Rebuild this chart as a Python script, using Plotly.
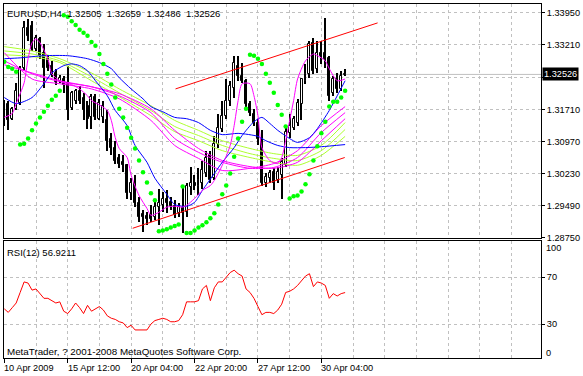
import plotly.graph_objects as go

FONT = "Liberation Sans, Arial"

# ---------------- data ----------------
bars = list(range(87))
opens = [1.3187,1.3185,1.3150,1.3173,1.3187,1.3268,1.3360,1.3365,1.3312,1.3335,
 1.3303,1.3289,1.3273,1.3256,1.3238,1.3242,1.3233,1.3175,1.3192,1.3215,
 1.3199,1.3180,1.3153,1.3201,1.3150,1.3153,1.3146,1.3104,1.3083,1.3058,
 1.3049,1.3042,1.2977,1.3002,1.2954,1.2929,1.2924,1.2926,1.2922,1.2945,
 1.2951,1.2963,1.2956,1.2947,1.2931,1.2942,1.2933,1.2991,1.3002,1.2993,
 1.3002,1.3023,1.3065,1.3012,1.3092,1.3127,1.3157,1.3192,1.3222,1.3273,
 1.3249,1.3238,1.3185,1.3162,1.3141,1.3104,1.3002,1.3012,1.3026,1.3007,
 1.3019,1.3042,1.3116,1.3129,1.3141,1.3185,1.3238,1.3254,1.3326,1.3266,
 1.3303,1.3303,1.3291,1.3210,1.3242,1.3219,1.32505]
highs = [1.3194,1.3192,1.3178,1.3233,1.3273,1.3376,1.3381,1.3376,1.3344,1.3339,
 1.3323,1.3296,1.3284,1.3266,1.3252,1.3249,1.3273,1.3215,1.3219,1.3226,
 1.3210,1.3192,1.3208,1.3208,1.3196,1.3192,1.3169,1.3116,1.3099,1.3069,
 1.3065,1.3046,1.3012,1.3019,1.2968,1.2938,1.2933,1.2949,1.2965,1.2988,
 1.2979,1.2984,1.2968,1.2961,1.2954,1.2991,1.3000,1.3037,1.3019,1.3035,
 1.3053,1.3076,1.3076,1.3111,1.3162,1.3192,1.3242,1.3238,1.3296,1.3296,
 1.3280,1.3242,1.3192,1.3173,1.3150,1.3123,1.3023,1.3030,1.3035,1.3037,
 1.3058,1.3134,1.3162,1.3157,1.3196,1.3245,1.3277,1.3330,1.3337,1.3330,
 1.3330,1.3383,1.3296,1.3249,1.3256,1.3261,1.32659]
lows = [1.3134,1.3123,1.3146,1.3169,1.3182,1.3261,1.3330,1.3307,1.3307,1.3289,
 1.3222,1.3261,1.3247,1.3229,1.3233,1.3210,1.3146,1.3169,1.3185,1.3185,
 1.3146,1.3127,1.3127,1.3146,1.3146,1.3141,1.3076,1.3065,1.3046,1.3035,
 1.3026,1.2965,1.2961,1.2945,1.2910,1.2887,1.2903,1.2910,1.2915,1.2903,
 1.2933,1.2931,1.2938,1.2919,1.2922,1.2885,1.2922,1.2972,1.2984,1.2972,
 1.2988,1.3014,1.3000,1.3007,1.3081,1.3118,1.3150,1.3180,1.3199,1.3238,
 1.3233,1.3175,1.3157,1.3134,1.3088,1.2995,1.2991,1.3002,1.2984,1.3002,
 1.2965,1.3037,1.3106,1.3123,1.3134,1.3146,1.3231,1.3245,1.3254,1.3256,
 1.3277,1.3268,1.3192,1.3203,1.3210,1.3215,1.32486]
closes = [1.3141,1.3146,1.3173,1.3215,1.3268,1.3360,1.3342,1.3312,1.3337,1.3296,
 1.3268,1.3268,1.3254,1.3236,1.3245,1.3229,1.3169,1.3210,1.3215,1.3192,
 1.3169,1.3150,1.3201,1.3153,1.3187,1.3180,1.3099,1.3083,1.3053,1.3046,
 1.3042,1.2977,1.3002,1.2954,1.2922,1.2922,1.2917,1.2917,1.2945,1.2954,
 1.2965,1.2954,1.2947,1.2926,1.2945,1.2931,1.2993,1.3002,1.2993,1.3007,
 1.3030,1.3060,1.3007,1.3092,1.3129,1.3157,1.3192,1.3226,1.3280,1.3249,
 1.3238,1.3185,1.3164,1.3141,1.3104,1.3002,1.3014,1.3023,1.3002,1.3026,
 1.3049,1.3118,1.3134,1.3150,1.3187,1.3242,1.3254,1.3323,1.3261,1.3303,
 1.3296,1.3289,1.3203,1.3242,1.3219,1.3249,1.32526]

sar = [1.3282,1.3270,1.3266,1.3259,1.3090,1.3092,1.3104,1.3123,1.3139,1.3153,
 1.3166,1.3180,1.3194,1.3203,1.3215,1.3390,1.3386,1.3376,1.3367,1.3356,
 1.3349,1.3342,1.3328,1.3319,1.3300,1.3277,1.3254,1.3229,1.3199,1.3173,
 1.3153,1.3129,1.3106,1.3081,1.3053,1.3026,1.3002,1.2977,1.2961,1.2889,
 1.2891,1.2894,1.2898,1.2901,1.2905,1.2993,1.2885,1.2885,1.2891,1.2898,
 1.2903,1.2910,1.2919,1.2931,1.2951,1.2975,1.2995,1.3023,1.3062,1.3104,
 1.3143,1.3173,1.3298,1.3296,1.3289,1.3277,1.3254,1.3233,1.3210,1.3182,
 1.3159,1.3132,1.2965,1.2970,1.2972,1.2981,1.2998,1.3021,1.3053,1.3086,
 1.3116,1.3143,1.3178,1.3189,1.3189,1.3199,1.3215]

rsi = [43,40,44,48,57,66,65,59,60,56,
 52,52,50,48,49,41,39,43,48,44,
 39,46,41,43,45,42,37,35,34,32,
 31,27,29,25,25,25,25,30,33,34,
 35,34,32,32,33,38,49,49,49,50,
 60,63,50,61,66,66,70,74,76,73,
 71,60,57,52,45,38,40,40,39,42,
 47,57,58,60,63,67,71,73,62,66,
 65,63,52,56,54,56,56.9211]

# moving averages (read at sample bars)
blueA_idx = [0,4,10,16,21,24,27,29,32,35,37,40,43,46,49,52,55,59,64,66,69,72,76,80,86]
blueA = [1.3289,1.3291,1.3296,1.3296,1.3289,1.3280,1.3266,1.3245,1.3219,1.3196,
 1.3178,1.3166,1.3153,1.3150,1.3141,1.3123,1.3113,1.3116,1.3109,1.3099,
 1.3088,1.3083,1.3083,1.3085,1.3090]
blueB_idx = [0,3,7,10,12,15,17,19,21,23,26,28,31,33,36,38,41,43,46,48,50,53,55,58,60,63,65,67,69,72,74,77,79,82,84,86]
blueB = [1.3199,1.3185,1.3199,1.3231,1.3256,1.3273,1.3277,1.3273,1.3261,1.3238,
 1.3203,1.3169,1.3134,1.3088,1.3049,1.3012,1.2975,1.2951,1.2947,1.2956,
 1.2984,1.3023,1.3049,1.3083,1.3111,1.3143,1.3153,1.3139,1.3123,1.3104,
 1.3095,1.3106,1.3127,1.3169,1.3203,1.3238]
magF_idx = [0,2,3,5,6,7,8,9,11,12,14,15,17,19,21,22,24,26,27,28,29,31,32,34,36,37,39,41,43,45,46,48,50,52,53,55,57,58,59,60,62,63,64,65,67,69,70,71,72,73,74,76,78,79,81,82,84,86]
magF = [1.3153,1.3162,1.3185,1.3233,1.3289,1.3326,1.3335,1.3326,1.3289,1.3254,
 1.3238,1.3233,1.3229,1.3219,1.3203,1.3192,1.3182,1.3169,1.3146,1.3106,
 1.3081,1.3060,1.3019,1.2972,1.2942,1.2926,1.2933,1.2945,1.2947,1.2945,
 1.2949,1.2965,1.2984,1.2995,1.3007,1.3042,1.3088,1.3134,1.3192,1.3231,
 1.3231,1.3203,1.3157,1.3083,1.3053,1.3046,1.3060,1.3099,1.3146,1.3192,
 1.3242,1.3284,1.3300,1.3296,1.3284,1.3266,1.3238,1.3242]
rib_idx = [0,7,14,22,29,37,43,49,55,62,68,74,80,86]
mag2 = [1.3303,1.3242,1.3231,1.3219,1.3196,1.3146,1.3088,1.3058,1.3030,1.3035,1.3046,1.3076,1.3134,1.3178]
mag3 = [1.3284,1.3254,1.3236,1.3224,1.3203,1.3164,1.3104,1.3072,1.3049,1.3035,1.3037,1.3060,1.3118,1.3164]
mag4 = [1.3275,1.3256,1.3238,1.3224,1.3208,1.3173,1.3123,1.3081,1.3053,1.3039,1.3035,1.3049,1.3099,1.3150]
yg1 = [1.3317,1.3307,1.3289,1.3256,1.3219,1.3180,1.3146,1.3123,1.3099,1.3081,1.3069,1.3065,1.3088,1.3141]
yg2 = [1.3307,1.3300,1.3284,1.3247,1.3210,1.3169,1.3132,1.3111,1.3088,1.3069,1.3058,1.3053,1.3076,1.3125]
yg3 = [1.3298,1.3294,1.3280,1.3238,1.3201,1.3157,1.3120,1.3099,1.3076,1.3060,1.3049,1.3042,1.3065,1.3109]

# trend channel (bar, price)
upper_idx = [43.2, 94.2]
upper_px = [1.3219, 1.3372]
lower_idx = [32.4, 85.9]
lower_px = [1.2896, 1.3060]

price_ticks = [1.2875, 1.2949, 1.3023, 1.3097, 1.3171, 1.3246, 1.3321, 1.3395]
price_labels = ["1.28750", "1.29490", "1.30230", "1.30970", "1.31710", "", "1.33210", "1.33950"]
rsi_ticks = [30, 70]
rsi_edge_labels = ["100", "0"]
time_idx = [0, 16, 32, 48, 64, 80]
time_labels = ["10 Apr 2009", "15 Apr 12:00", "20 Apr 04:00", "22 Apr 20:00", "27 Apr 12:00", "30 Apr 04:00"]
last_price = 1.32526
symbol_text = "EURUSD,H4"
rsi_label = "RSI(12) 56.9211"
copyright = "MetaTrader, ? 2001-2008 MetaQuotes Software Corp."

FS = 9.2

# ---------------- figure ----------------
fig = go.Figure()

# wicks
fig.add_trace(go.Bar(x=bars, y=[h - l for h, l in zip(highs, lows)], base=lows,
                     width=0.28, marker=dict(color="black", line=dict(width=0)),
                     xaxis="x", yaxis="y", hoverinfo="skip"))
# bodies
body_h = [max(abs(c - o), 0.00004) for o, c in zip(opens, closes)]
body_b = [min(o, c) for o, c in zip(opens, closes)]
body_c = ["white" if c >= o else "black" for o, c in zip(opens, closes)]
fig.add_trace(go.Bar(x=bars, y=body_h, base=body_b, width=0.5,
                     marker=dict(color=body_c, line=dict(color="black", width=1)),
                     xaxis="x", yaxis="y", hoverinfo="skip"))

def add_line(xs, ys, color, smooth=True, width=1):
    fig.add_trace(go.Scatter(x=xs, y=ys, mode="lines",
                             line=dict(color=color, width=width,
                                       shape="spline" if smooth else "linear",
                                       smoothing=0.7 if smooth else None),
                             xaxis="x", yaxis="y", hoverinfo="skip"))

YG = "#ADFF2F"
MG = "#FF00FF"
for s in (yg1, yg2, yg3):
    add_line(rib_idx, s, YG)
for s in (mag2, mag3, mag4):
    add_line(rib_idx, s, MG)
add_line(blueA_idx, blueA, "#0000FF")
add_line(blueB_idx, blueB, "#0000FF")
add_line(magF_idx, magF, MG)
add_line(upper_idx, upper_px, "#FF0000", smooth=False)
add_line(lower_idx, lower_px, "#FF0000", smooth=False)

fig.add_trace(go.Scatter(x=bars, y=sar, mode="markers",
                         marker=dict(color="#00FF00", size=4.5, symbol="circle", line=dict(width=0)),
                         xaxis="x", yaxis="y", hoverinfo="skip"))

# RSI
fig.add_trace(go.Scatter(x=bars, y=rsi, mode="lines", line=dict(color="#FF0000", width=1),
                         xaxis="x2", yaxis="y2", hoverinfo="skip"))

GRID = "#C0C0C0"
grid_minor = [8, 24, 40, 56, 72, 88, 96, 104, 112, 120, 128]
grid_all = list(range(8, 129, 8))
XR = [-0.075, 135.425]

fig.update_layout(
    width=583, height=376,
    margin=dict(l=3, r=38, t=3, b=18),
    paper_bgcolor="white", plot_bgcolor="white",
    showlegend=False, barmode="overlay", bargap=0,
    font=dict(family=FONT, size=FS, color="black"),
    xaxis=dict(domain=[0, 1], anchor="y", range=XR, tickvals=grid_all,
               showticklabels=False, ticks="", showgrid=True, gridcolor=GRID,
               griddash="3px,3px", gridwidth=1, zeroline=False,
               showline=True, mirror=True, linecolor="black", linewidth=1),
    yaxis=dict(domain=[0.33803, 1], anchor="x", range=[1.287269, 1.341580],
               side="right", tickvals=price_ticks, ticktext=price_labels,
               ticks="outside", ticklen=3, tickcolor="black",
               showgrid=True, gridcolor=GRID, griddash="3px,3px", zeroline=False,
               showline=True, mirror=True, linecolor="black", linewidth=1,
               tickfont=dict(family=FONT, size=FS, color="black")),
    xaxis2=dict(domain=[0, 1], anchor="y2", range=XR, tickvals=time_idx,
                showticklabels=False, ticks="outside", ticklen=4, tickcolor="black",
                showgrid=True, gridcolor=GRID, griddash="3px,3px", zeroline=False,
                minor=dict(tickvals=grid_minor, showgrid=True, gridcolor=GRID,
                           griddash="3px,3px", ticks=""),
                showline=True, mirror=True, linecolor="black", linewidth=1),
    yaxis2=dict(domain=[0, 0.32958], anchor="x2", range=[1.06, 100.64],
                side="right", tickvals=rsi_ticks, ticktext=[str(v) for v in rsi_ticks],
                ticks="outside", ticklen=3, tickcolor="black",
                showgrid=True, gridcolor=GRID, griddash="3px,3px", zeroline=False,
                showline=True, mirror=True, linecolor="black", linewidth=1,
                tickfont=dict(family=FONT, size=FS, color="black")),
)

# current price line
fig.add_shape(type="line", xref="x domain", yref="y", x0=0, x1=1, y0=last_price, y1=last_price,
              line=dict(color=GRID, width=1), layer="below")

ann = []
hdr = symbol_text + "\u00a0\u00a0" + "\u00a0\u00a0".join("%.5f" % v for v in (opens[-1], highs[-1], lows[-1], closes[-1]))
ann.append(dict(text=hdr, xref="x domain", yref="y domain", x=0, y=1,
                xanchor="left", yanchor="middle", xshift=1, yshift=-9, showarrow=False,
                font=dict(family=FONT, size=FS + 0.3, color="black")))
ann.append(dict(text="%.5f" % last_price, xref="paper", yref="y", x=1, y=last_price,
                xanchor="left", yanchor="middle", xshift=1, showarrow=False,
                bgcolor="black", borderpad=1, font=dict(family=FONT, size=FS, color="white")))
ann.append(dict(text=rsi_label, xref="x2 domain", yref="y2 domain", x=0, y=1,
                xanchor="left", yanchor="middle", xshift=1, yshift=-11, showarrow=False,
                font=dict(family=FONT, size=FS + 0.3, color="black")))
ann.append(dict(text=copyright, xref="x2 domain", yref="y2 domain", x=0, y=0,
                xanchor="left", yanchor="middle", xshift=1, yshift=7, showarrow=False,
                font=dict(family=FONT, size=FS + 0.6, color="black")))
for t, yv, sh in ((rsi_edge_labels[0], 1, -7), (rsi_edge_labels[1], 0, 5.5)):
    ann.append(dict(text=t, xref="paper", yref="y2 domain", x=1, y=yv, xanchor="left",
                    yanchor="middle", xshift=3, yshift=sh, showarrow=False,
                    font=dict(family=FONT, size=FS, color="black")))
for i, t in zip(time_idx, time_labels):
    ann.append(dict(text=t, xref="x2", yref="y2 domain", x=i, y=0, xanchor="left",
                    yanchor="middle", xshift=-2, yshift=-10, showarrow=False,
                    font=dict(family=FONT, size=FS, color="black")))
fig.update_layout(annotations=ann)

fig.write_html("out.html", config={"displayModeBar": False},
               post_script="document.body.style.margin='0';document.body.style.padding='0';")
